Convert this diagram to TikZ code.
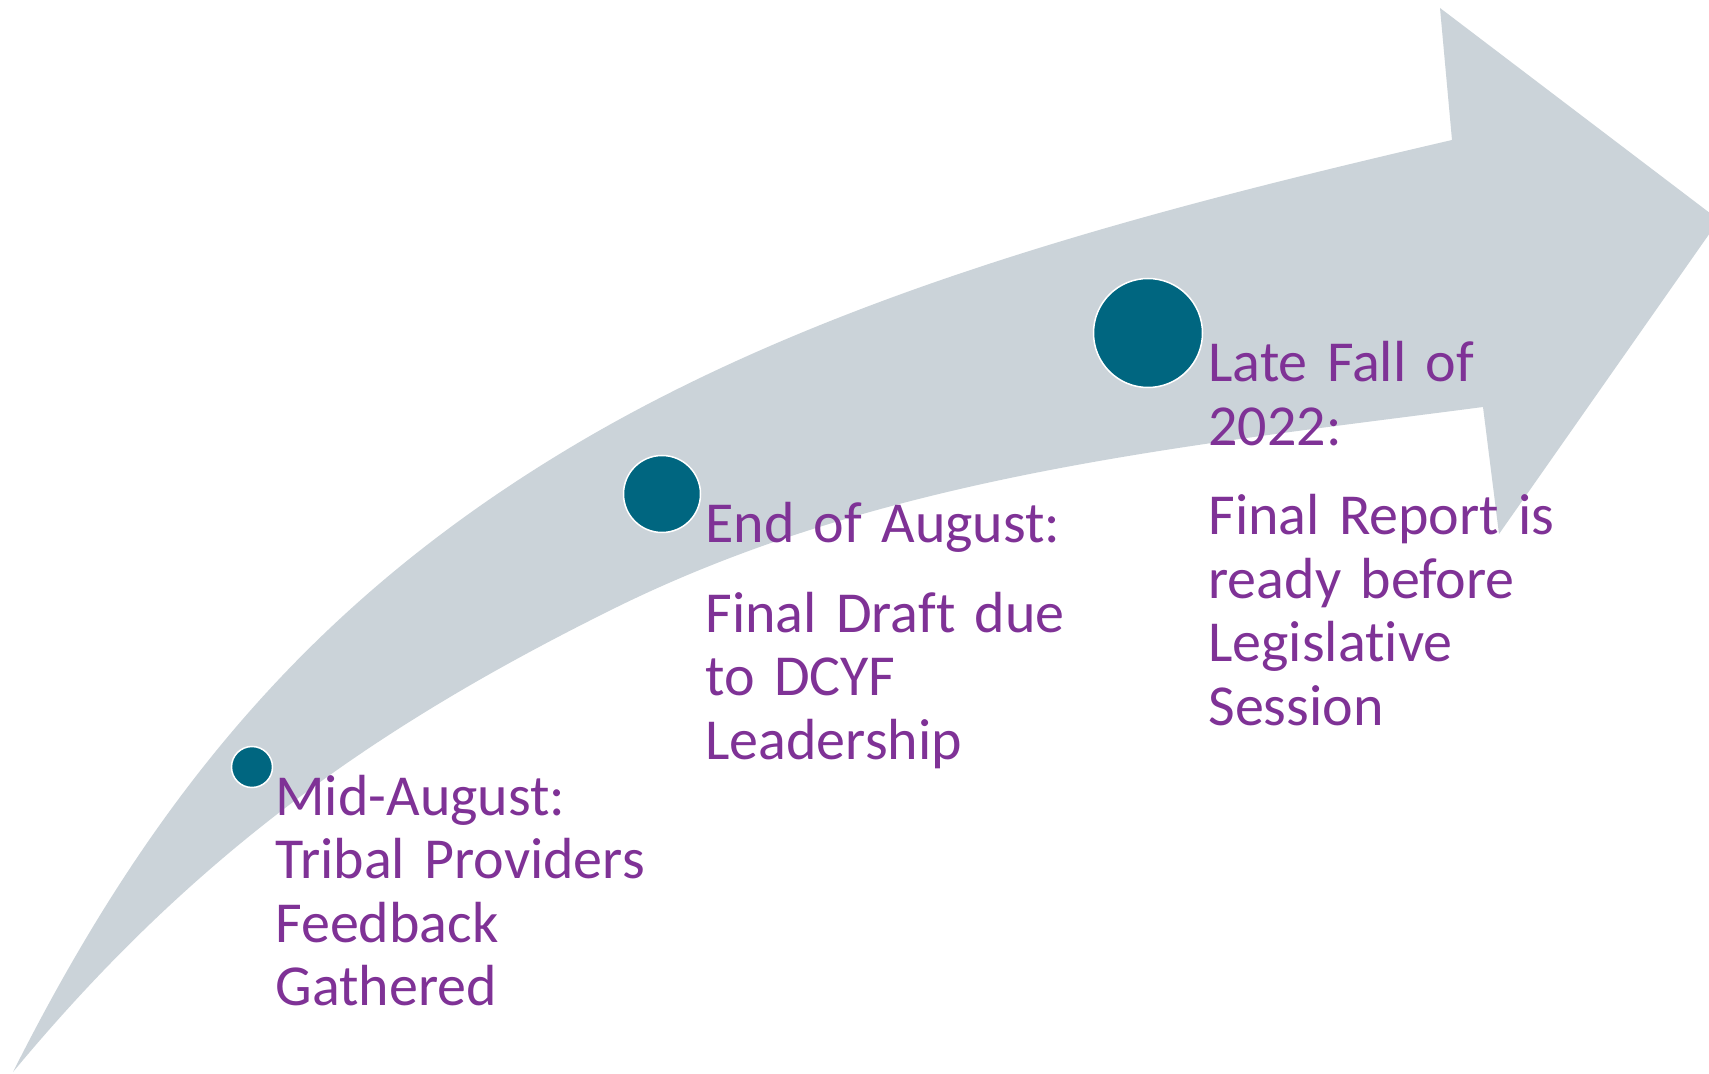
\documentclass[tikz,border=0pt]{standalone}
\usepackage{fontspec}
\setmainfont{Carlito}[Ligatures=CommonOff, WordSpace=0.85]
\definecolor{arrowgrey}{HTML}{CBD3D9}
\definecolor{dotteal}{HTML}{006680}
\definecolor{labelpurple}{HTML}{7F3296}
\begin{document}
\begin{tikzpicture}[x=0.5pt,y=-0.5pt,
  dot/.style={circle, fill=dotteal, draw=white, line width=0.75pt, inner sep=0pt},
  milestone/.style={anchor=base west, inner sep=0pt, text=labelpurple, align=left,
    text width=220pt, font=\fontsize{29pt}{31.75pt}\selectfont}]
\useasboundingbox[fill=white] (0,0) rectangle (1709,1074);
\begin{scope}
\clip (0,0) rectangle (1709,1074);
\coordinate (tail) at (13,1072);
\coordinate (om) at (583,440);
\coordinate (oc) at (1452,140);
\coordinate (hb) at (1440,8);
\coordinate (tip) at (1719,220);
\coordinate (hc) at (1499,534);
\coordinate (ic) at (1483,407);
\coordinate (im) at (617,607);
\fill[arrowgrey] (tail)
  .. controls (152,796) and (315,597) .. (om)
  .. controls (842,288.5) and (1160,208) .. (oc)
  -- (hb) -- (tip) -- (hc) -- (ic)
  .. controls (1185,446) and (886,475) .. (im)
  .. controls (384,722) and (198,849) .. (tail)
  -- cycle;
\end{scope}
\node[dot, minimum size=20.5pt] (d1) at (252,767) {};
\node[dot, minimum size=38.5pt] (d2) at (662,494) {};
\node[dot, minimum size=54.5pt] (d3) at (1148,333) {};
\node[milestone] (t1) at (275,815) {Mid-August:\\Tribal Providers\\Feedback\\Gathered};
\node[milestone] (t2) at (705,543) {End of August:\\[13pt]Final Draft due\\to DCYF\\Leadership};
\node[milestone] (t3) at (1208,382) {Late Fall of\\2022:\\[13pt]Final Report is\\ready before\\Legislative\\Session};
\end{tikzpicture}
\end{document}
